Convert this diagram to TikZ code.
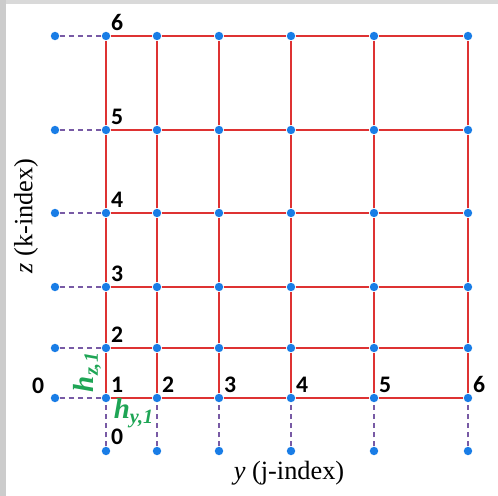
\documentclass[tikz,border=0pt]{standalone}
\usepackage{fontspec}
\setmainfont{Liberation Serif}
\newfontfamily\numfont{Carlito}
\definecolor{gridred}{RGB}{222,50,50}
\definecolor{dotblue}{RGB}{25,125,230}
\definecolor{dashpurple}{RGB}{120,90,165}
\definecolor{hgreen}{RGB}{30,165,85}
\tikzset{
  pt/.style={circle, fill=dotblue, inner sep=0pt, minimum size=4.8pt},
  idx/.style={font=\numfont\bfseries\fontsize{13.5}{13.5}\selectfont, inner sep=0pt},
  gridline/.style={gridred, line width=1.2pt},
  ghost/.style={dashpurple, line width=0.8pt, dash pattern=on 3pt off 2.2pt},
  hlab/.style={text=hgreen, font=\bfseries\itshape\fontsize{16.5}{16.5}\selectfont, inner sep=0pt},
  axlab/.style={font=\fontsize{15}{15}\selectfont, inner sep=0pt}
}
\begin{document}
\begin{tikzpicture}[x=0.02cm, y=-0.02cm]
\useasboundingbox (0,0) rectangle (498,496);
% frame
\fill[gray!30] (0,0) rectangle (498,4);
\fill[gray!40] (0,0) rectangle (6,496);
% grid points
\foreach \c/\x in {1/106, 2/157, 3/219, 4/291, 5/374, 6/468}
  \foreach \r/\y in {1/398, 2/348, 3/287, 4/213, 5/130, 6/36}
    \node[pt] (n-\c-\r) at (\x,\y) {};
% ghost points
\foreach \r/\y in {1/398, 2/348, 3/287, 4/213, 5/130, 6/36}
  \node[pt] (l-\r) at (55,\y) {};
\foreach \c/\x in {1/106, 2/157, 3/219, 4/291, 5/374, 6/468}
  \node[pt] (b-\c) at (\x,451) {};
% red grid lines
\foreach \r in {1,...,6}
  \foreach \c [count=\d from 2] in {1,...,5}
    \draw[gridline] (n-\c-\r) -- (n-\d-\r);
\foreach \c in {1,...,6}
  \foreach \r [count=\s from 2] in {1,...,5}
    \draw[gridline] (n-\c-\r) -- (n-\c-\s);
% dashed links to ghost points
\foreach \r in {1,...,6}
  \draw[ghost] (l-\r) -- (n-1-\r);
\foreach \c in {1,...,6}
  \draw[ghost] (b-\c) -- (n-\c-1);
% index labels
\foreach \r in {2,...,6}
  \node[idx, xshift=6.4pt, yshift=7.6pt] (kl-\r) at (n-1-\r) {\r};
\foreach \c in {1,...,6}
  \node[idx, xshift=6.4pt, yshift=7.6pt] (jl-\c) at (n-\c-1) {\c};
\node[idx, xshift=-9.6pt, yshift=7pt] (kl-0) at (l-1) {0};
\node[idx, xshift=6.4pt, yshift=8pt] (jl-0) at (b-1) {0};
% spacings
\node[hlab, rotate=90] (hz) at (87,372) {h\textsubscript{z,1}};
\node[hlab] (hy) at (134,413) {h\textsubscript{y,1}};
% axis names
\node[axlab] (ylab) at (289,473) {\textit{y} (j-index)};
\node[axlab, rotate=90] (zlab) at (26,216) {\textit{z} (k-index)};
\end{tikzpicture}
\end{document}
